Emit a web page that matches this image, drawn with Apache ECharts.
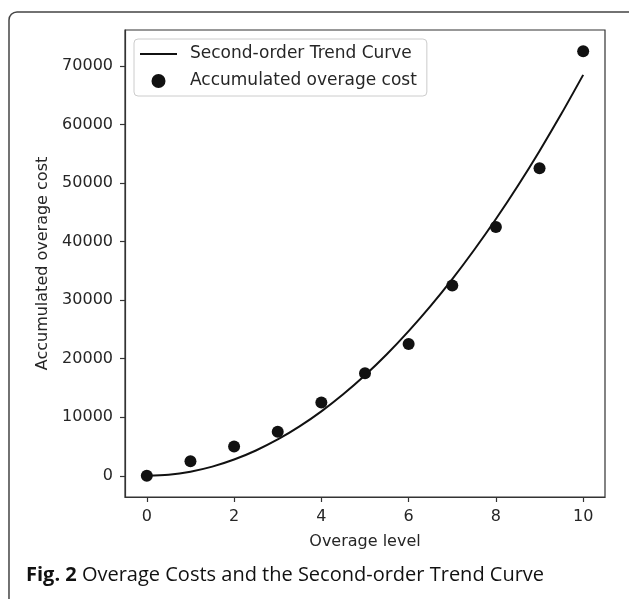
<!DOCTYPE html>
<html>
<head>
<meta charset="utf-8">
<script src="https://cdn.jsdelivr.net/npm/echarts@6/dist/echarts.min.js"></script>
<style>html,body{margin:0;padding:0;background:#fff}#c{width:629px;height:599px}</style>
</head>
<body>
<div id="c"></div>
<script>
// Data
var levels = [0, 1, 2, 3, 4, 5, 6, 7, 8, 9, 10];
var accumulatedCost = [0, 2500, 5000, 7500, 12500, 17500, 22500, 32500, 42500, 52500, 72500];
var curveX = [0, 0.5, 1, 1.5, 2, 2.5, 3, 3.5, 4, 4.5, 5, 5.5, 6, 6.5, 7, 7.5, 8, 8.5, 9, 9.5, 10];
var curveY = [0, 180, 700, 1560, 2770, 4320, 6200, 8430, 11000, 13910, 17160, 20750, 24700, 28970, 33590, 38560, 43850, 49490, 55480, 61810, 68460];
var xTicks = [0, 2, 4, 6, 8, 10];
var yTicks = [0, 10000, 20000, 30000, 40000, 50000, 60000, 70000];

var chart = echarts.init(document.getElementById('c'), null, {renderer: 'canvas'});
var txt = '#262626';
var font = '"DejaVu Sans", sans-serif';
chart.setOption({
  animation: false,
  backgroundColor: '#fff',
  textStyle: {fontFamily: font},
  grid: {left: 125, top: 30, right: 24, bottom: 102, show: true, borderColor: '#333', borderWidth: 1.2, containLabel: false},
  xAxis: {
    type: 'value', min: -0.5, max: 10.5,
    name: 'Overage level', nameLocation: 'middle', nameGap: 37,
    nameTextStyle: {color: txt, fontSize: 16, fontFamily: font},
    axisLine: {show: true, onZero: false, lineStyle: {color: '#333', width: 1.2}},
    axisTick: {show: true, customValues: xTicks, length: 5, lineStyle: {color: '#333', width: 1.2}},
    axisLabel: {customValues: xTicks, color: txt, fontSize: 16, margin: 12, fontFamily: font,
      formatter: function (v) { return String(v); }},
    splitLine: {show: false}
  },
  yAxis: {
    type: 'value', min: -3625, max: 76125,
    name: 'Accumulated overage cost', nameLocation: 'middle', nameGap: 73, nameRotate: 90,
    nameTextStyle: {color: txt, fontSize: 16, fontFamily: font},
    axisLine: {show: true, onZero: false, lineStyle: {color: '#333', width: 1.2}},
    axisTick: {show: true, customValues: yTicks, length: 5, lineStyle: {color: '#333', width: 1.2}},
    axisLabel: {customValues: yTicks, color: txt, fontSize: 16, margin: 12, fontFamily: font,
      formatter: function (v) { return String(v); }},
    splitLine: {show: false}
  },
  legend: {
    orient: 'vertical', left: 134, top: 39,
    backgroundColor: '#fff', borderColor: '#ccc', borderWidth: 1, borderRadius: 4,
    padding: [6, 10, 6, 6], itemGap: 9, itemWidth: 37, itemHeight: 14,
    textStyle: {color: txt, fontSize: 17, lineHeight: 18, fontFamily: font, padding: [0, 0, 0, 8]},
    data: [
      {name: 'Second-order Trend Curve', icon: 'path://M0,6 L37,6 L37,8 L0,8 Z', itemStyle: {color: '#111', opacity: 1}},
      {name: 'Accumulated overage cost', icon: 'circle', itemStyle: {color: '#111', opacity: 1}}
    ]
  },
  series: [
    {
      name: 'Second-order Trend Curve', type: 'line', smooth: 0.3,
      data: curveX.map(function (x, i) { return [x, curveY[i]]; }),
      showSymbol: false, symbol: 'none',
      lineStyle: {color: '#111', width: 2}, itemStyle: {color: '#111'}, z: 2
    },
    {
      name: 'Accumulated overage cost', type: 'scatter',
      data: levels.map(function (x, i) { return [x, accumulatedCost[i]]; }),
      symbol: 'circle', symbolSize: 12,
      itemStyle: {color: '#111', opacity: 1}, z: 3
    }
  ],
  graphic: [
    {type: 'rect', shape: {x: 9, y: 12, width: 800, height: 800, r: 8}, style: {fill: 'none', stroke: '#444', lineWidth: 1.5}, silent: true},
    {type: 'text', left: 26, top: 565, style: {
      text: '{b|Fig. 2} Overage Costs and the Second-order Trend Curve',
      rich: {b: {fontWeight: 'bold', fontSize: 20, fontFamily: 'Open Sans', fill: '#111'}},
      fontSize: 20, fontFamily: 'Open Sans', fill: '#111'
    }}
  ]
});
</script>
</body>
</html>
